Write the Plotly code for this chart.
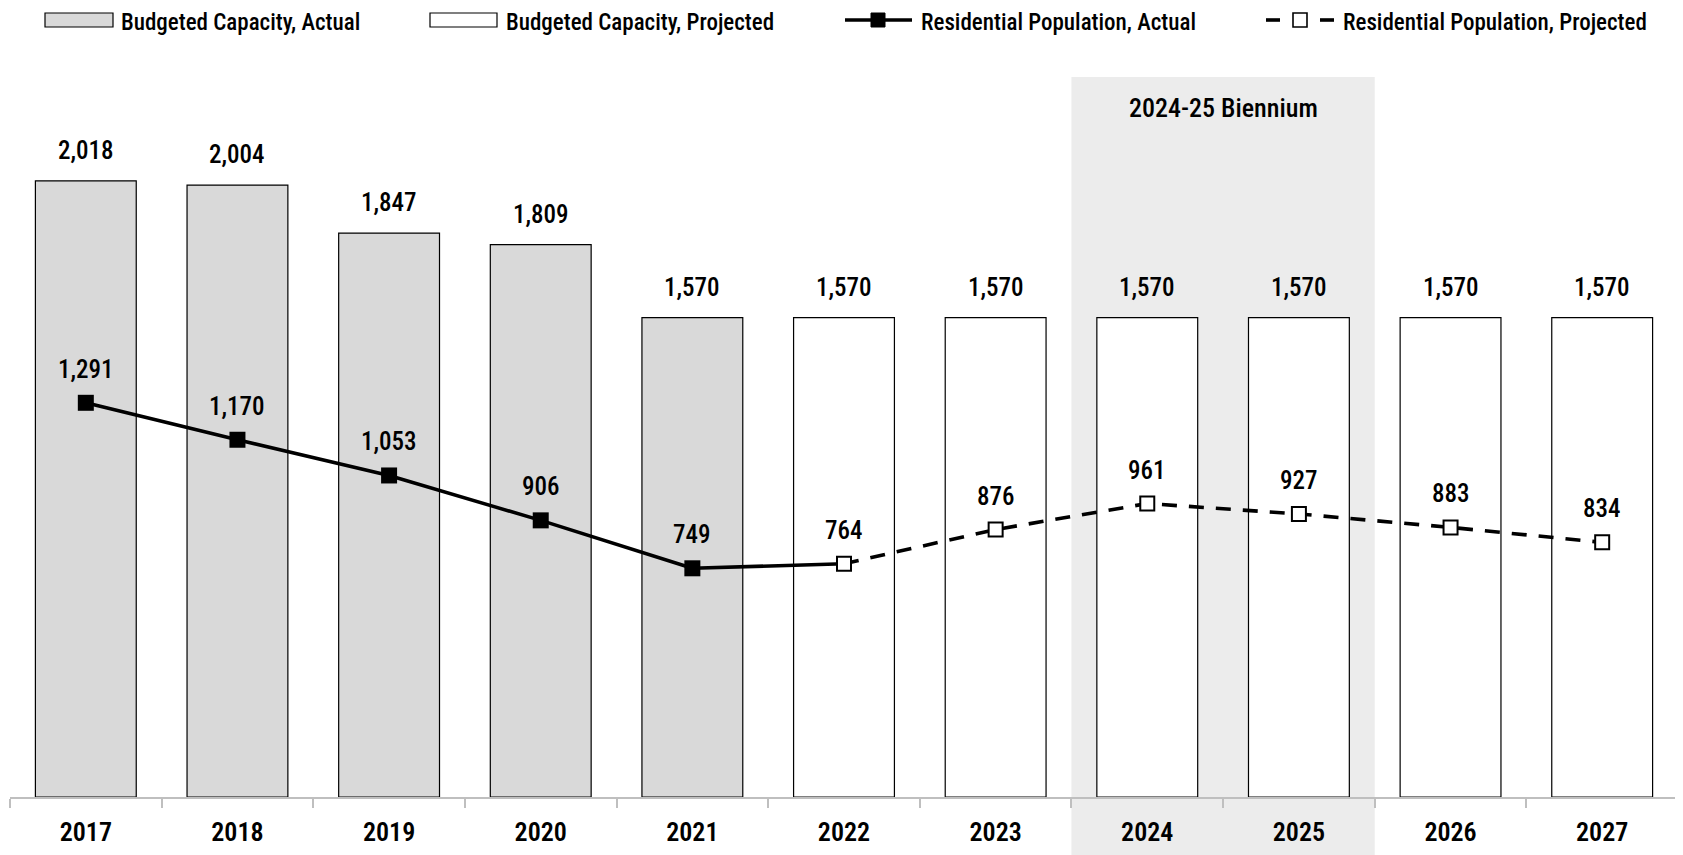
import plotly.graph_objects as go

years = ["2017", "2018", "2019", "2020", "2021", "2022", "2023", "2024", "2025", "2026", "2027"]
capacity_actual_years = ["2017", "2018", "2019", "2020", "2021"]
capacity_actual = [2018, 2004, 1847, 1809, 1570]
capacity_projected_years = ["2022", "2023", "2024", "2025", "2026", "2027"]
capacity_projected = [1570, 1570, 1570, 1570, 1570, 1570]
pop_actual_years = ["2017", "2018", "2019", "2020", "2021"]
pop_actual = [1291, 1170, 1053, 906, 749]
pop_projected_years = ["2022", "2023", "2024", "2025", "2026", "2027"]
pop_projected = [764, 876, 961, 927, 883, 834]
biennium_years = ["2024", "2025"]
biennium_label = "2024-25 Biennium"
legend_labels = ["Budgeted Capacity, Actual", "Budgeted Capacity, Projected",
                 "Residential Population, Actual", "Residential Population, Projected"]

FONT = "Roboto Condensed, Open Sans Condensed, DejaVu Sans Condensed, sans-serif"
OFF = 8  # page body margin offset in the browser
W, H = 1683 - OFF, 855 - OFF
ML, MR, MT, MB = 2, 5, 69, 58
PW, PH = W - ML - MR, H - MT - MB


def px(sx):
    """screen x -> paper x"""
    return (sx - OFF - ML) / PW


def py(sy):
    """screen y -> paper y"""
    return (H - MB - (sy - OFF)) / PH


fig = go.Figure()

fig.add_trace(go.Bar(
    x=capacity_actual_years, y=capacity_actual, name=legend_labels[0], showlegend=False,
    marker=dict(color="#d9d9d9", line=dict(color="black", width=1.2)), width=0.665,
))
fig.add_trace(go.Bar(
    x=capacity_projected_years, y=capacity_projected, name=legend_labels[1], showlegend=False,
    marker=dict(color="white", line=dict(color="black", width=1.2)), width=0.665,
))
fig.add_trace(go.Scatter(
    x=[pop_actual_years[-1], pop_projected_years[0]], y=[pop_actual[-1], pop_projected[0]],
    mode="lines", line=dict(color="black", width=3.6), showlegend=False, hoverinfo="skip",
))
fig.add_trace(go.Scatter(
    x=pop_actual_years, y=pop_actual, name=legend_labels[2], showlegend=False,
    mode="lines+markers", line=dict(color="black", width=3.6),
    marker=dict(symbol="square", size=16, color="black"),
))
fig.add_trace(go.Scatter(
    x=pop_projected_years, y=pop_projected, name=legend_labels[3], showlegend=False,
    mode="lines+markers", line=dict(color="black", width=3.6, dash="15px,12px"),
    marker=dict(symbol="square", size=14, color="white", line=dict(color="black", width=2)),
))

LABEL_FONT = dict(family=FONT, size=25, color="black", weight=500)
annotations = []
for xs, ys in [(capacity_actual_years, capacity_actual), (capacity_projected_years, capacity_projected)]:
    for x, y in zip(xs, ys):
        annotations.append(dict(x=years.index(x), y=y, xref="x", yref="y", text=f"{y:,}",
                                showarrow=False, yanchor="bottom", yshift=14, font=LABEL_FONT))
for xs, ys in [(pop_actual_years, pop_actual), (pop_projected_years, pop_projected)]:
    for x, y in zip(xs, ys):
        annotations.append(dict(x=years.index(x), y=y, xref="x", yref="y", text=f"{y:,}",
                                showarrow=False, yanchor="bottom", yshift=17, font=LABEL_FONT))
b0, b1 = years.index(biennium_years[0]), years.index(biennium_years[1])
annotations.append(dict(x=(b0 + b1) / 2, xref="x", y=py(108), yref="paper", text=biennium_label,
                        showarrow=False, yanchor="middle",
                        font=dict(family=FONT, size=26, color="black", weight=500)))

# manual legend (wide swatches like the original)
LEG_Y = 20
LEG_FONT = dict(family=FONT, size=23, color="black", weight=500)
legend_text_x = [120, 505, 920, 1342]
for lx, lab in zip(legend_text_x, legend_labels):
    annotations.append(dict(x=px(lx), y=py(OFF), xref="paper", yref="paper", xanchor="left",
                            yanchor="top", borderpad=0, text=lab, showarrow=False, font=LEG_FONT))

shapes = [dict(type="rect", xref="x", yref="paper", x0=b0 - 0.5, x1=b1 + 0.5, y0=-0.2, y1=1,
               fillcolor="#ececec", line=dict(width=0), layer="below")]
for (x0, x1), fill in [((45, 113), "#d9d9d9"), ((430, 497), "white")]:
    shapes.append(dict(type="rect", xref="paper", yref="paper", x0=px(x0), x1=px(x1),
                       y0=py(27), y1=py(13), fillcolor=fill, line=dict(color="black", width=1.2)))
shapes.append(dict(type="line", xref="paper", yref="paper", x0=px(845), x1=px(912), y0=py(LEG_Y), y1=py(LEG_Y),
                   line=dict(color="black", width=3.6)))
shapes.append(dict(type="rect", xref="paper", yref="paper", x0=px(871), x1=px(885), y0=py(27), y1=py(13),
                   fillcolor="black", line=dict(color="black", width=1)))
for x0, x1 in [(1266, 1280), (1320, 1334)]:
    shapes.append(dict(type="line", xref="paper", yref="paper", x0=px(x0), x1=px(x1), y0=py(LEG_Y),
                       y1=py(LEG_Y), line=dict(color="black", width=3.6)))
shapes.append(dict(type="rect", xref="paper", yref="paper", x0=px(1293), x1=px(1307), y0=py(27), y1=py(13),
                   fillcolor="white", line=dict(color="black", width=1.6)))

fig.update_layout(
    width=W, height=H,
    margin=dict(l=ML, r=MR, t=MT, b=MB, autoexpand=False),
    barmode="overlay",
    plot_bgcolor="white", paper_bgcolor="white",
    font=dict(family=FONT, size=22, color="black"),
    showlegend=False,
    annotations=annotations,
    shapes=shapes,
)
fig.update_xaxes(type="category", categoryorder="array", categoryarray=years,
                 showline=True, linecolor="#bfbfbf", linewidth=1.5,
                 ticks="outside", tickson="boundaries", ticklen=9, tickcolor="#bfbfbf", tickwidth=1.5,
                 ticklabelstandoff=11, automargin=False,
                 tickfont=dict(family=FONT, size=26, color="black", weight=600), showgrid=False,
                 range=[-0.5, 10.5])
fig.update_yaxes(range=[0, 2358], showticklabels=False, showline=False, ticks="", showgrid=False,
                 zeroline=False, automargin=False)

fig.write_html("out.html")
